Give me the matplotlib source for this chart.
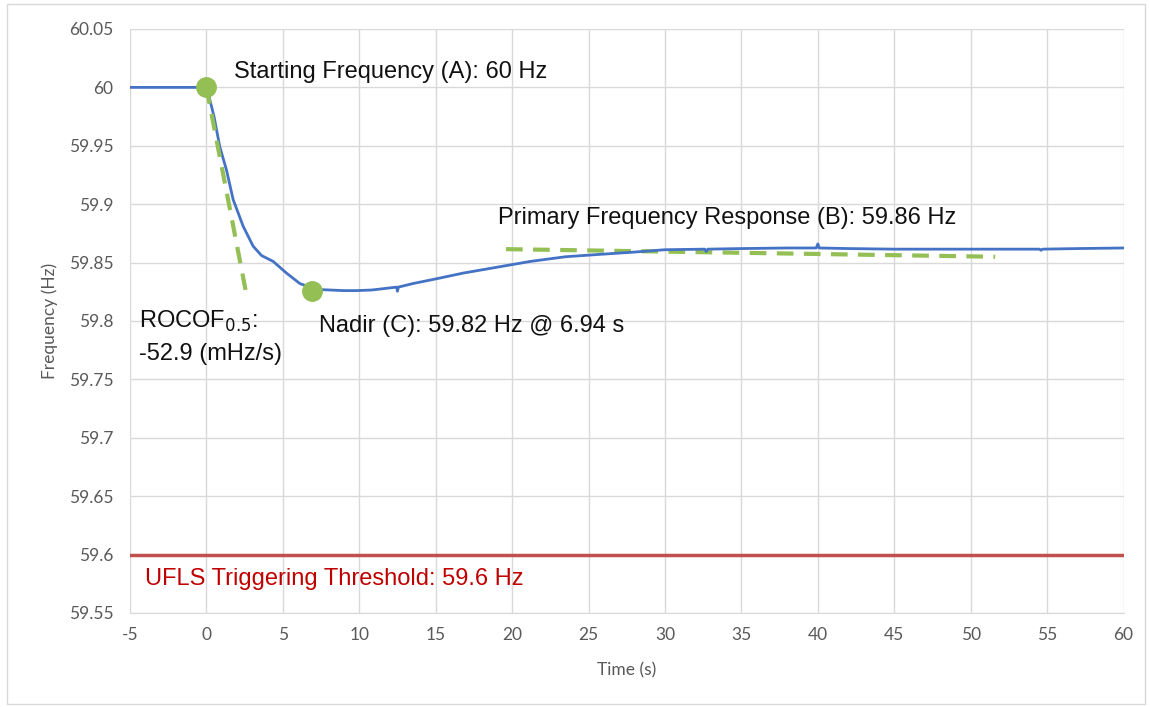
import matplotlib
matplotlib.use("Agg")
import matplotlib.pyplot as plt
from matplotlib.patches import Rectangle

time_s = [-5, 0, 0.12, 0.5, 0.88, 1.32, 1.75, 2.41, 3.06, 3.61, 4.37, 5.24, 6.12,
          7.2, 8.1, 9.0, 9.8, 10.8, 11.8, 12.44, 12.5, 12.56, 13.5, 15.0, 16.8,
          19.0, 21.2, 23.5, 25.7, 28.0, 30.0, 32.6, 32.7, 32.8, 35.0, 38.0, 39.9,
          40.0, 40.1, 42.0, 45.0, 48.0, 51.0, 54.5, 54.6, 54.7, 57.0, 60.0]
freq_hz = [60.0, 60.0, 59.995, 59.975, 59.949, 59.929, 59.904, 59.881, 59.864,
           59.856, 59.851, 59.841, 59.832, 59.827, 59.8265, 59.826, 59.826,
           59.8265, 59.828, 59.829, 59.8255, 59.829, 59.832, 59.836, 59.841,
           59.846, 59.851, 59.855, 59.857, 59.859, 59.861, 59.8615, 59.8595,
           59.8615, 59.862, 59.8625, 59.8625, 59.866, 59.8625, 59.862, 59.8615,
           59.8615, 59.8615, 59.8615, 59.8605, 59.8615, 59.862, 59.8625]

# Annotation geometry values
rocof_t = [0.0, 2.63]
rocof_f = [60.0, 59.822]
pfr_t = [19.6, 51.6]
pfr_f = [59.8615, 59.855]
start_pt = (0.0, 60.0)
nadir_pt = (6.94, 59.826)
ufls_level = 59.6

x_ticks = list(range(-5, 61, 5))
y_ticks = [59.55, 59.6, 59.65, 59.7, 59.75, 59.8, 59.85, 59.9, 59.95, 60.0, 60.05]
y_tick_labels = ["59.55", "59.6", "59.65", "59.7", "59.75", "59.8", "59.85",
                 "59.9", "59.95", "60", "60.05"]

blue = "#4472C4"
green = "#93BF55"
red = "#C0504D"
gray_txt = "#595959"

fig = plt.figure(figsize=(11.5, 7.07), dpi=100)
fig.patches.append(Rectangle((0.006, 0.004), 0.99, 0.99, transform=fig.transFigure,
                             fill=False, edgecolor="#D9D9D9", linewidth=1.0))
ax = fig.add_axes([0.113, 0.133, 0.864, 0.826])

ax.set_xlim(-5, 60)
ax.set_ylim(59.55, 60.05)
ax.set_xticks(x_ticks)
ax.set_xticklabels([str(v) for v in x_ticks])
ax.set_yticks(y_ticks)
ax.set_yticklabels(y_tick_labels)
ax.grid(True, color="#D9D9D9", linewidth=1.0)
ax.set_axisbelow(True)
for s in ["top", "right", "left"]:
    ax.spines[s].set_visible(False)
ax.spines["bottom"].set_color("#D9D9D9")
ax.tick_params(axis="x", length=0, labelsize=12.5, labelcolor=gray_txt, pad=10)
ax.tick_params(axis="y", length=0, labelsize=12.5, labelcolor=gray_txt, pad=12)
for lbl in ax.get_xticklabels() + ax.get_yticklabels():
    lbl.set_family("Lato")
ax.set_xlabel("Time (s)", fontsize=12.5, color=gray_txt, family="Lato", labelpad=14)
ax.set_ylabel("Frequency (Hz)", fontsize=12.5, color=gray_txt, family="Lato", labelpad=8)

ax.axhline(ufls_level, color=red, linewidth=2.5, zorder=2)
ax.plot(time_s, freq_hz, color=blue, linewidth=2.0, zorder=3)
ax.plot(rocof_t, rocof_f, color=green, linewidth=3, dashes=(4, 2.5), zorder=4)
ax.plot(pfr_t, pfr_f, color=green, linewidth=3, dashes=(4, 2.5), zorder=2.5)
ax.plot(*start_pt, "o", color=green, markersize=14, zorder=5)
ax.plot(*nadir_pt, "o", color=green, markersize=14, zorder=5)

tf = dict(family="Liberation Sans", fontsize=17, color="#111111")
ax.text(1.8, 60.013, "Starting Frequency (A): 60 Hz", va="center", ha="left", **tf)
ax.text(19.05, 59.8885, "Primary Frequency Response (B): 59.86 Hz", va="center", ha="left", **tf)
ax.text(7.4, 59.796, "Nadir (C): 59.82 Hz @ 6.94 s", va="center", ha="left", **tf)
ax.text(-4.4, 59.800, r"ROCOF$_{0.5}$:", va="center", ha="left", **tf)
ax.text(-4.4, 59.772, "-52.9 (mHz/s)", va="center", ha="left", **tf)
ax.text(-4.0, 59.579, "UFLS Triggering Threshold: 59.6 Hz", va="center", ha="left",
        family="Liberation Sans", fontsize=17, color="#C00000")

fig.savefig("out.png", dpi=100)
